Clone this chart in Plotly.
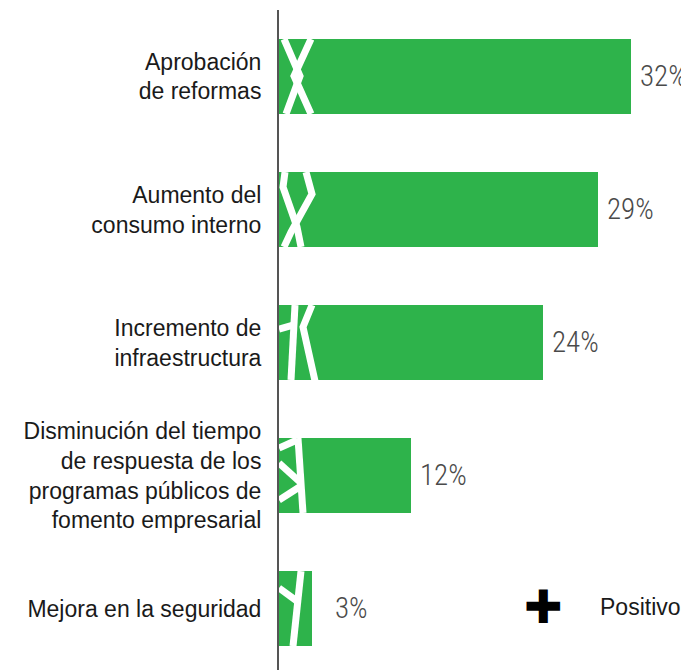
import plotly.graph_objects as go

# data
categories = [
    "Aprobación<br>de reformas",
    "Aumento del<br>consumo interno",
    "Incremento de<br>infraestructura",
    "Disminución del tiempo<br>de respuesta de los<br>programas públicos de<br>fomento empresarial",
    "Mejora en la seguridad",
]
values = [32, 29, 24, 12, 3]
value_labels = ["32%", "29%", "24%", "12%", "3%"]
legend_label = "Positivo"

GREEN = "#2eb34b"
PX_PER_PCT = 11.0    # 407 px plot width / 37
PX_PER_ROW = 133.0
BAR_W = 0.564

# white zigzag decoration on each bar, (dx px from bar start, dy px from bar top)
deco = [
    [[(5, 0), (21, 37), (7, 75)], [(32, 0), (15, 37), (32, 75)]],
    [[(6, 0), (4, 15), (18, 55), (22, 75)], [(27, 0), (33, 22), (12, 60), (5, 75)]],
    [[(16, 0), (12, 75)], [(0, 24), (14, 20)], [(33, 0), (24, 22), (36, 76)]],
    [[(19, 0), (24, 75)], [(0, 10), (18, 2)], [(0, 25), (22, 45)], [(0, 62), (22, 48)]],
    [[(22, 0), (19, 31), (14, 75)], [(0, 17), (18, 30)]],
]

idx = list(range(len(categories)))

fig = go.Figure()
fig.add_trace(go.Bar(
    x=values, y=idx, orientation="h", width=BAR_W,
    marker=dict(color=GREEN, line=dict(width=0)),
    hoverinfo="skip", showlegend=False,
))

for i, lines in enumerate(deco):
    top = i - BAR_W / 2
    for pts in lines:
        fig.add_trace(go.Scatter(
            x=[min(dx / PX_PER_PCT, values[i]) for dx, dy in pts],
            y=[top + dy / PX_PER_ROW for dx, dy in pts],
            mode="lines", line=dict(color="white", width=7),
            hoverinfo="skip", showlegend=False,
        ))

# value labels, right edge sits a fixed distance past the bar end
for i, (v, t) in enumerate(zip(values, value_labels)):
    fig.add_annotation(
        x=v, y=i, text=t, showarrow=False, xanchor="right", yanchor="middle",
        xshift=58, yshift=1,
        font=dict(family="Roboto Condensed, DejaVu Sans Condensed, Roboto, sans-serif",
                  size=29, color="#4a4a4a", weight=300),
    )

# legend
fig.add_annotation(
    x=0.651, y=0.0955, xref="paper", yref="paper", text="✚", showarrow=False,
    xanchor="center", yanchor="middle",
    font=dict(family="DejaVu Sans", size=46, color="black"),
)
fig.add_annotation(
    x=0.784, y=0.0955, xref="paper", yref="paper", text=legend_label,
    showarrow=False, xanchor="left", yanchor="middle",
    font=dict(family="Liberation Sans", size=23, color="#1a1a1a"),
)

# page body has an 8px margin, so the figure is shifted by that amount
fig.update_layout(
    width=681, height=662,
    margin=dict(l=271, r=3, t=2, b=0),
    plot_bgcolor="white", paper_bgcolor="white",
    bargap=0,
    xaxis=dict(range=[0, 37], visible=False, fixedrange=True),
    yaxis=dict(
        range=[4.962 - 0.5, -0.5], tickvals=idx, ticktext=categories,
        showline=True, linecolor="#555555", linewidth=2,
        ticks="", ticklabelstandoff=11, showgrid=False, zeroline=False,
        tickfont=dict(family="Liberation Sans", size=23, color="#1a1a1a"),
    ),
)

fig.write_html("out.html")
